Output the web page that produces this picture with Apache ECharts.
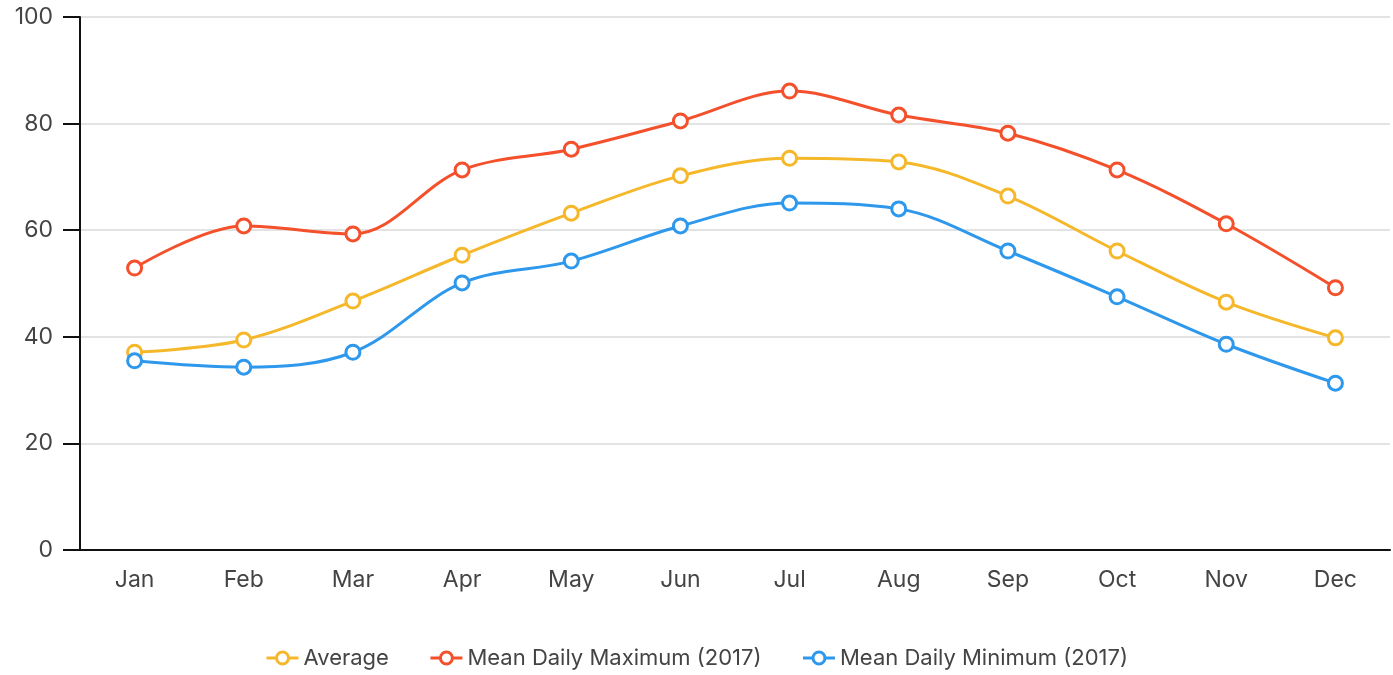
<!DOCTYPE html>
<html><head><meta charset="utf-8">
<script src="https://cdn.jsdelivr.net/npm/echarts@6/dist/echarts.min.js"></script>
<style>html,body{margin:0;padding:0;background:#fff}#c{width:1393px;height:675px}</style>
</head><body><div id="c"></div>
<script>
const months = ['Jan','Feb','Mar','Apr','May','Jun','Jul','Aug','Sep','Oct','Nov','Dec'];
const average = [37.1, 39.4, 46.7, 55.3, 63.2, 70.2, 73.5, 72.8, 66.4, 56.1, 46.5, 39.8];
const meanMax = [52.9, 60.8, 59.3, 71.3, 75.2, 80.5, 86.1, 81.6, 78.2, 71.3, 61.2, 49.2];
const meanMin = [35.5, 34.3, 37.1, 50.1, 54.2, 60.8, 65.1, 64.0, 56.1, 47.5, 38.6, 31.3];
const seriesNames = ['Average', 'Mean Daily Maximum (2017)', 'Mean Daily Minimum (2017)'];
const colors = ['#F6B82B', '#F4502B', '#2E98EC'];
const font = 'Inter, "Noto Sans", sans-serif';
const chart = echarts.init(document.getElementById('c'), null, {renderer:'canvas'});
function mk(name, data, color){
  return {name, type:'line', data, smooth:0.35, symbol:'circle', symbolSize:14,
    itemStyle:{color:'#fff', borderColor:color, borderWidth:3},
    lineStyle:{color, width:3}, emphasis:{disabled:true}};
}
chart.setOption({
  animation:false,
  color: colors,
  grid:{left:80, right:3, top:17, bottom:125, containLabel:false},
  legend:{bottom:1, left:'center', itemGap:40, itemWidth:32, itemHeight:15,
    textStyle:{fontFamily:font, fontSize:22, color:'#444'},
    data: seriesNames.map((n,i)=>({name:n,
      itemStyle:{color:'#fff', borderColor:colors[i], borderWidth:3},
      lineStyle:{color:colors[i], width:3}}))},
  xAxis:{type:'category', data:months, boundaryGap:true,
    axisLine:{lineStyle:{color:'#111', width:2}},
    axisTick:{alignWithLabel:true, length:18, lineStyle:{color:'#111', width:2}},
    axisLabel:{fontFamily:font, fontSize:23, color:'#444', margin:19},
    splitLine:{show:false}},
  yAxis:{type:'value', min:0, max:100, interval:20,
    axisLine:{show:true, lineStyle:{color:'#111', width:2}},
    axisTick:{show:true, length:17, lineStyle:{color:'#111', width:2}},
    axisLabel:{fontFamily:font, fontSize:23, color:'#444', margin:27},
    splitLine:{lineStyle:{color:'#e3e3e3', width:2}}},
  series:[mk(seriesNames[0], average, colors[0]), mk(seriesNames[1], meanMax, colors[1]), mk(seriesNames[2], meanMin, colors[2])]
});
</script></body></html>
